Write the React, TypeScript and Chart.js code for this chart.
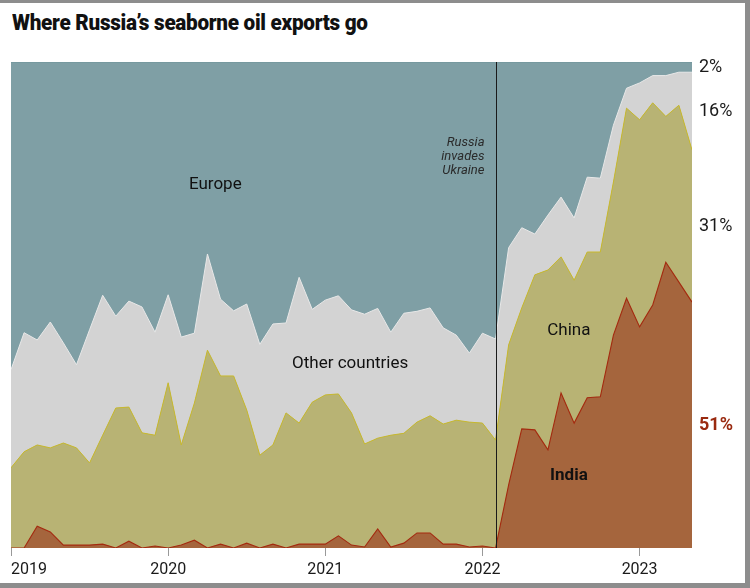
import React, { useEffect, useRef } from "react";
import { Chart, registerables } from "chart.js";

Chart.register(...registerables);

const MONTHS = [
  "2019-01","2019-02","2019-03","2019-04","2019-05","2019-06","2019-07","2019-08","2019-09","2019-10","2019-11","2019-12",
  "2020-01","2020-02","2020-03","2020-04","2020-05","2020-06","2020-07","2020-08","2020-09","2020-10","2020-11","2020-12",
  "2021-01","2021-02","2021-03","2021-04","2021-05","2021-06","2021-07","2021-08","2021-09","2021-10","2021-11","2021-12",
  "2022-01","2022-02","2022-03","2022-04","2022-05","2022-06","2022-07","2022-08","2022-09","2022-10","2022-11","2022-12",
  "2023-01","2023-02","2023-03","2023-04","2023-05",
];

// share of Russia's seaborne oil exports, %
const INDIA = [
  0, 0, 4.5, 3.3, 0.6, 0.6, 0.6, 0.8, 0, 1.4, 0, 0.4,
  0, 0.6, 1.6, 0, 0.8, 0, 1.0, 0, 0.8, 0, 0.8, 0.8,
  0.8, 2.5, 0.6, 0.2, 3.9, 0.2, 1.0, 3.1, 3.1, 0.8, 0.8, 0.2,
  0.4, 0, 13.0, 24.5, 24.3, 20.2, 31.9, 25.7, 30.9, 31.1, 43.8, 51.4,
  45.5, 50.0, 58.8, 54.7, 50.6,
];
const CHINA = [
  16.5, 19.8, 16.7, 17.3, 21.0, 20.0, 16.9, 22.4, 28.8, 27.6, 23.7, 22.8,
  34.0, 20.6, 28.2, 40.7, 34.6, 35.4, 27.4, 19.1, 20.4, 27.8, 24.9, 29.2,
  30.7, 29.2, 27.2, 21.2, 18.7, 23.0, 22.6, 22.8, 24.1, 24.7, 25.5, 25.7,
  25.3, 22.2, 28.8, 24.9, 31.9, 37.0, 28.0, 29.4, 30.0, 29.8, 31.5, 39.1,
  42.6, 41.6, 30.0, 36.4, 31.3,
];
const OTHER = [
  20.2, 24.5, 21.6, 25.9, 20.6, 17.1, 27.4, 28.8, 18.9, 21.8, 25.9, 21.2,
  18.1, 22.2, 14.4, 19.8, 15.8, 13.4, 21.8, 22.8, 24.9, 18.5, 30.0, 19.1,
  19.5, 20.2, 21.2, 26.7, 26.7, 21.2, 24.7, 22.8, 22.2, 19.8, 17.5, 14.2,
  18.5, 20.8, 20.0, 16.5, 8.4, 11.3, 12.3, 12.8, 15.4, 15.2, 11.7, 4.1,
  7.6, 5.6, 8.4, 6.8, 16.0,
];
const EUROPE = [
  63.3, 55.7, 57.2, 53.5, 57.8, 62.3, 55.1, 48.0, 52.3, 49.2, 50.4, 55.6,
  47.9, 56.6, 55.8, 39.5, 48.8, 51.2, 49.8, 58.1, 53.9, 53.7, 44.3, 50.9,
  49.0, 48.1, 51.0, 51.9, 50.7, 55.6, 51.7, 51.3, 50.6, 54.7, 56.2, 59.9,
  55.8, 57.0, 38.2, 34.1, 35.4, 31.5, 27.8, 32.1, 23.7, 23.9, 13.0, 5.4,
  4.3, 2.8, 2.8, 2.1, 2.1,
];

const YEAR_TICKS = ["2019-01", "2020-01", "2021-01", "2022-01", "2023-01"];
const YEAR_LABELS = ["2019", "2020", "2021", "2022", "2023"];
const INVASION_MONTH = "2022-02";
const INVASION_TEXT = ["Russia", "invades", "Ukraine"];

const COLORS = {
  india: "#a5653d",
  indiaLine: "#a52a0e",
  china: "#b8b374",
  chinaLine: "#c9b92c",
  other: "#d3d3d3",
  otherLine: "#e8e8e8",
  europe: "#7f9fa5",
  europeLine: "#6f939a",
};

const FONT = "Roboto, 'Liberation Sans', sans-serif";

const overlay = {
  id: "overlay",
  beforeDatasetsDraw(chart: any) {
    const { ctx, chartArea } = chart;
    ctx.save();
    ctx.fillStyle = COLORS.europe;
    ctx.fillRect(chartArea.left, chartArea.top, chartArea.right - chartArea.left, chartArea.bottom - chartArea.top);
    ctx.restore();
  },
  afterDatasetsDraw(chart: any) {
    const { ctx, chartArea } = chart;
    const xs = chart.scales.x;
    const ys = chart.scales.y;
    ctx.save();
    // invasion line
    const xi = Math.round(xs.getPixelForValue(MONTHS.indexOf(INVASION_MONTH))) + 0.5;
    ctx.strokeStyle = "#1a1a1a";
    ctx.lineWidth = 1;
    ctx.beginPath();
    ctx.moveTo(xi, chartArea.top);
    ctx.lineTo(xi, chartArea.bottom);
    ctx.stroke();

    ctx.fillStyle = "#2a2a2a";
    ctx.font = `italic 13px ${FONT}`;
    ctx.textAlign = "right";
    ctx.textBaseline = "middle";
    INVASION_TEXT.forEach((t, k) => {
      ctx.fillText(t, xi - 12, ys.getPixelForValue(83.3) + k * 14);
    });

    // area labels
    const areaLabels = [
      { t: "Europe", x: 15.6, y: 74.8, bold: false },
      { t: "Other countries", x: 25.9, y: 38.0, bold: false },
      { t: "China", x: 42.6, y: 44.8, bold: false },
      { t: "India", x: 42.6, y: 14.8, bold: true },
    ];
    ctx.textAlign = "center";
    areaLabels.forEach((l) => {
      ctx.font = `${l.bold ? "bold " : ""}17px ${FONT}`;
      ctx.fillStyle = "#111";
      ctx.fillText(l.t, xs.getPixelForValue(l.x), ys.getPixelForValue(l.y));
    });

    // right-hand share labels
    const last = MONTHS.length - 1;
    const bands = [INDIA[last], CHINA[last], OTHER[last], EUROPE[last]];
    let cum = 0;
    ctx.textAlign = "left";
    bands.forEach((v, k) => {
      const mid = cum + v / 2;
      cum += v;
      ctx.font = `${k === 0 ? "bold " : ""}18px ${FONT}`;
      ctx.fillStyle = k === 0 ? "#9a2a10" : "#1a1a1a";
      ctx.fillText(`${Math.round(v)}%`, chartArea.right + 7, ys.getPixelForValue(mid));
    });
    ctx.restore();
  },
};

export default function App() {
  const ref = useRef<HTMLCanvasElement | null>(null);
  useEffect(() => {
    if (!ref.current) return;
    const pts = (arr: number[]) => arr.map((v, i) => ({ x: i, y: v }));
    const tickVals = YEAR_TICKS.map((m) => MONTHS.indexOf(m));
    const lastIdx = MONTHS.length - 1;
    const chart = new Chart(ref.current, {
      type: "line",
      data: {
        datasets: [
          { label: "India", data: pts(INDIA), backgroundColor: COLORS.india, borderColor: COLORS.indiaLine, borderWidth: 1.1, fill: "origin" },
          { label: "China", data: pts(CHINA), backgroundColor: COLORS.china, borderColor: COLORS.chinaLine, borderWidth: 1, fill: "-1" },
          { label: "Other countries", data: pts(OTHER), backgroundColor: COLORS.other, borderColor: COLORS.otherLine, borderWidth: 1, fill: "-1" },
          { label: "Europe", data: pts(EUROPE), backgroundColor: COLORS.europe, borderColor: COLORS.europeLine, borderWidth: 1, fill: "-1" },
        ] as any,
      },
      options: {
        animation: false,
        responsive: false,
        devicePixelRatio: 1,
        layout: { padding: { left: 11, right: 58, top: 62, bottom: 0 } },
        elements: { point: { radius: 0 }, line: { tension: 0 } },
        plugins: { legend: { display: false }, tooltip: { enabled: false }, title: { display: false } },
        scales: {
          x: {
            type: "linear",
            min: 0,
            max: lastIdx,
            afterBuildTicks: (scale: any) => {
              scale.ticks = [...tickVals, lastIdx].map((v) => ({ value: v }));
            },
            afterFit: (scale: any) => {
              scale.height = 40;
            },
            border: { display: false },
            grid: {
              drawOnChartArea: false,
              drawTicks: true,
              tickLength: 8,
              tickColor: (ctx: any) => (ctx.tick && ctx.tick.value === lastIdx ? "rgba(0,0,0,0)" : "#999"),
            },
            ticks: {
              autoSkip: false,
              maxRotation: 0,
              align: "inner",
              padding: 4,
              color: "#1a1a1a",
              font: { family: FONT, size: 16 },
              callback: (v: any) => {
                const k = tickVals.indexOf(Number(v));
                return k >= 0 ? YEAR_LABELS[k] : "";
              },
            },
          },
          y: { stacked: true, min: 0, max: 100, display: false },
        },
      } as any,
      plugins: [overlay],
    });
    return () => chart.destroy();
  }, []);

  return (
    <div style={{ position: "absolute", left: 0, top: 0, width: 750, height: 588, background: "#8d8d8d", overflow: "hidden" }}>
      <div style={{ position: "absolute", left: 0, top: 3, width: 745, height: 580, background: "#fff" }} />
      <div
        style={{
          position: "absolute",
          left: 12,
          top: 10,
          fontFamily: FONT,
          fontWeight: 900,
          fontSize: 22,
          color: "#111",
          whiteSpace: "nowrap",
          transformOrigin: "left top",
          transform: "scaleX(0.94)",
          letterSpacing: -0.3,
        }}
      >
        Where Russia’s seaborne oil exports go
      </div>
      <canvas ref={ref} width={750} height={588} style={{ position: "absolute", left: 0, top: 0, width: 750, height: 588 }} />
    </div>
  );
}
